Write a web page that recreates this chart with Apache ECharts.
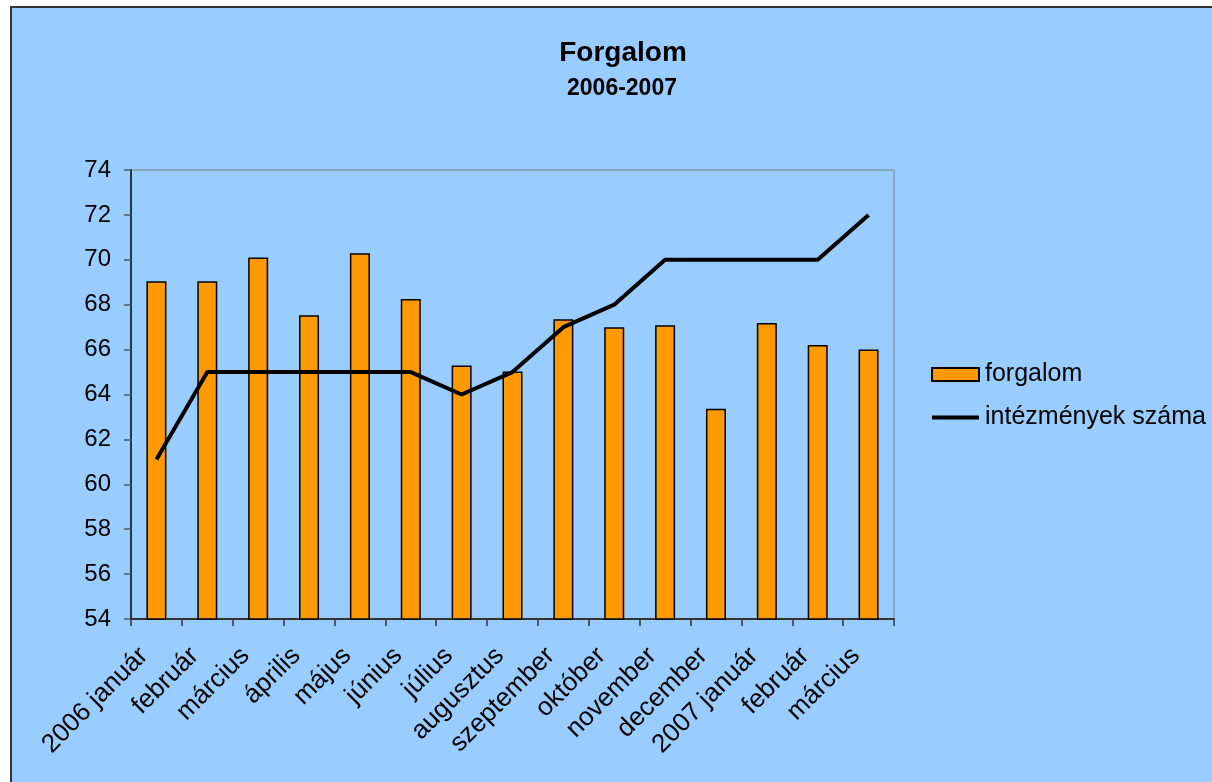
<!DOCTYPE html>
<html>
<head>
<meta charset="utf-8">
<script src="https://cdn.jsdelivr.net/npm/echarts@6/dist/echarts.min.js"></script>
<style>
html, body { margin: 0; padding: 0; background: #ffffff; }
#chart { width: 1212px; height: 782px; }
</style>
</head>
<body>
<div id="chart"></div>
<script>
var months = ['2006 január', 'február', 'március', 'április', 'május', 'június', 'július',
    'augusztus', 'szeptember', 'október', 'november', 'december', '2007 január', 'február', 'március'];
var forgalom = [69.05, 69.05, 70.1, 67.53, 70.29, 68.25, 65.29, 65.03, 67.35, 67.0, 67.09, 63.36, 67.18, 66.2, 66.01];
var intezmenyek = [61.1, 65, 65, 65, 65, 65, 64, 65, 67, 68, 70, 70, 70, 70, 72];
var yTicks = { min: 54, max: 74, step: 2 };

var font = 'Liberation Sans, Arial, sans-serif';
var chart = echarts.init(document.getElementById('chart'));

var option = {
    backgroundColor: '#ffffff',
    textStyle: { fontFamily: font },
    graphic: [{
        type: 'rect',
        z: -10,
        shape: { x: 11, y: 7, width: 1300, height: 900 },
        style: { fill: '#99ccff', stroke: '#333333', lineWidth: 2 }
    }],
    title: [{
        text: 'Forgalom',
        left: 618,
        top: 34,
        textAlign: 'center',
        textStyle: { color: '#000', fontSize: 28, fontWeight: 'bold', fontFamily: font }
    }, {
        text: '2006-2007',
        left: 617,
        top: 72,
        textAlign: 'center',
        textStyle: { color: '#000', fontSize: 23, fontWeight: 'bold', fontFamily: font }
    }],
    legend: {
        orient: 'vertical',
        left: 926,
        top: 357,
        itemWidth: 47,
        itemHeight: 13,
        itemGap: 18,
        textStyle: { color: '#000', fontSize: 25, fontFamily: font, padding: [0, 0, 0, 1] },
        data: [
            { name: 'forgalom', icon: 'rect' },
            { name: 'intézmények száma', icon: 'path://M0,0 L47,0 L47,4 L0,4 Z' }
        ]
    },
    grid: {
        left: 131,
        right: 318,
        top: 170,
        bottom: 163,
        show: true,
        borderColor: '#808080',
        borderWidth: 1
    },
    xAxis: {
        type: 'category',
        data: months,
        axisLine: { lineStyle: { color: '#333333', width: 2 } },
        axisTick: { show: true, length: 7, lineStyle: { color: '#333333', width: 1.5 } },
        axisLabel: {
            interval: 0,
            rotate: 45,
            margin: 20,
            padding: [0, 18, 0, 0],
            color: '#000',
            fontSize: 26,
            fontFamily: font
        }
    },
    yAxis: {
        type: 'value',
        min: yTicks.min,
        max: yTicks.max,
        interval: yTicks.step,
        axisLine: { show: true, lineStyle: { color: '#333333', width: 2 } },
        axisTick: { show: true, length: 7, lineStyle: { color: '#4a5a70', width: 1.5 } },
        splitLine: { show: false },
        axisLabel: { margin: 20, color: '#000', fontSize: 24, fontFamily: font }
    },
    series: [{
        name: 'forgalom',
        type: 'bar',
        barWidth: 20,
        data: forgalom,
        itemStyle: { color: '#ff9900', borderColor: '#000', borderWidth: 1.5 }
    }, {
        name: 'intézmények száma',
        type: 'line',
        data: intezmenyek,
        symbol: 'none',
        lineStyle: { color: '#000', width: 4 },
        itemStyle: { color: '#000' }
    }]
};

chart.setOption(option);
</script>
</body>
</html>
